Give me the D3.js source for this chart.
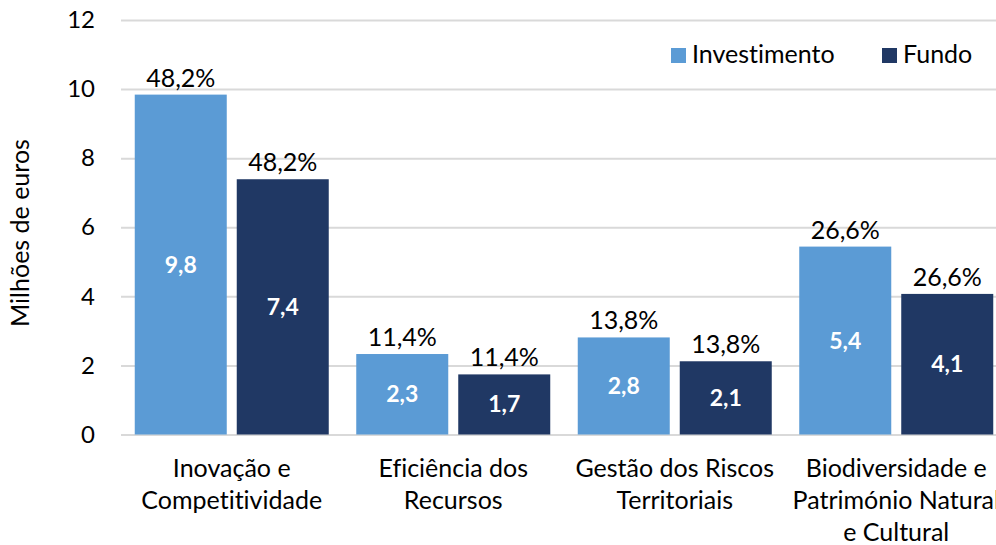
<!DOCTYPE html>
<html>
<head>
<meta charset="utf-8">
<script src="https://cdn.jsdelivr.net/npm/d3@7"></script>
<style>
  body { margin: 0; background: #fff; }
  svg text { font-family: Lato, "Open Sans", sans-serif; fill: #000; font-variant-ligatures: none; }
</style>
</head>
<body>
<div id="chart"></div>
<script>
// Investimento vs Fundo by thematic area (millions of euros)
const width = 996;
const height = 545;

const categories = [
  ["Inovação e", "Competitividade"],
  ["Eficiência dos", "Recursos"],
  ["Gestão dos Riscos", "Territoriais"],
  ["Biodiversidade e", "Património Natural", "e Cultural"]
];
const series = ["Investimento", "Fundo"];
const investimento = [9.84, 2.33, 2.81, 5.44];
const fundo = [7.39, 1.74, 2.12, 4.07];
const shares = [48.2, 11.4, 13.8, 26.6];
const yTicks = [0, 2, 4, 6, 8, 10, 12];
const colors = ["#5B9BD5", "#203864"];

const margin = { top: 20, right: -11, bottom: 110.5, left: 121 };

const svg = d3.select("#chart")
  .append("svg")
  .attr("width", width)
  .attr("height", height);

const y = d3.scaleLinear()
  .domain([0, 12])
  .range([height - margin.bottom, margin.top]);

const x0 = d3.scaleBand()
  .domain(d3.range(categories.length))
  .range([margin.left, width - margin.right])
  .paddingInner(27.5 / 221.5)
  .paddingOuter(13.75 / 221.5);

const x1 = d3.scaleBand()
  .domain(series)
  .range([0, x0.bandwidth()])
  .paddingInner(0.098);

const comma = v => v.toFixed(1).replace(".", ",");

// gridlines + y ticks
const yAxis = d3.axisLeft(y)
  .tickValues(yTicks)
  .tickSize(-(width - margin.right - margin.left))
  .tickPadding(26)
  .tickFormat(d => d);

const gy = svg.append("g")
  .attr("transform", `translate(${margin.left},0)`)
  .call(yAxis);
gy.select(".domain").remove();
gy.selectAll(".tick line").attr("stroke", "#D9D9D9").attr("stroke-width", 2);
gy.selectAll(".tick text")
  .style("font-size", "24px")
  .attr("fill", "#000");

// y title
svg.append("text")
  .attr("transform", `translate(29,233) rotate(-90)`)
  .attr("text-anchor", "middle")
  .style("font-size", "25px")
  .text("Milhões de euros");

const rows = categories.map((c, i) => ({
  i,
  vals: [
    { key: series[0], v: investimento[i] },
    { key: series[1], v: fundo[i] }
  ]
}));

const groups = svg.append("g").selectAll("g")
  .data(rows)
  .join("g")
  .attr("transform", d => `translate(${x0(d.i)},0)`);

groups.selectAll("rect")
  .data(d => d.vals)
  .join("rect")
  .attr("x", d => x1(d.key))
  .attr("y", d => y(d.v))
  .attr("width", x1.bandwidth())
  .attr("height", d => y(0) - y(d.v))
  .attr("fill", (d, j) => colors[j]);

// values inside bars
groups.selectAll("text.val")
  .data(d => d.vals)
  .join("text")
  .attr("class", "val")
  .attr("x", d => x1(d.key) + x1.bandwidth() / 2)
  .attr("y", d => (y(d.v) + y(0)) / 2)
  .attr("dy", "0.35em")
  .attr("text-anchor", "middle")
  .style("font-size", "23px")
  .style("font-weight", "bold")
  .style("fill", "#fff")
  .text(d => comma(d.v));

// share labels above bars
groups.selectAll("text.pct")
  .data(d => d.vals.map(v => ({ ...v, s: shares[d.i] })))
  .join("text")
  .attr("class", "pct")
  .attr("x", d => x1(d.key) + x1.bandwidth() / 2)
  .attr("y", d => y(d.v) - 8)
  .attr("text-anchor", "middle")
  .style("font-size", "25px")
  .text(d => comma(d.s) + "%");

// category labels
svg.append("g").selectAll("text")
  .data(categories)
  .join("text")
  .attr("x", (d, i) => x0(i) + x0.bandwidth() / 2)
  .attr("y", 477)
  .attr("text-anchor", "middle")
  .style("font-size", "25px")
  .selectAll("tspan")
  .data(d => d)
  .join("tspan")
  .attr("x", function() { return this.parentNode.getAttribute("x"); })
  .attr("dy", (d, k) => k === 0 ? 0 : 32)
  .text(d => d);

// legend
const legendX = [671, 882];
const legend = svg.append("g").selectAll("g")
  .data(series)
  .join("g")
  .attr("transform", (d, i) => `translate(${legendX[i]},48)`);
legend.append("rect")
  .attr("width", 15)
  .attr("height", 15)
  .attr("fill", (d, i) => colors[i]);
legend.append("text")
  .attr("x", 21)
  .attr("y", 15)
  .style("font-size", "25px")
  .text(d => d);
</script>
</body>
</html>
